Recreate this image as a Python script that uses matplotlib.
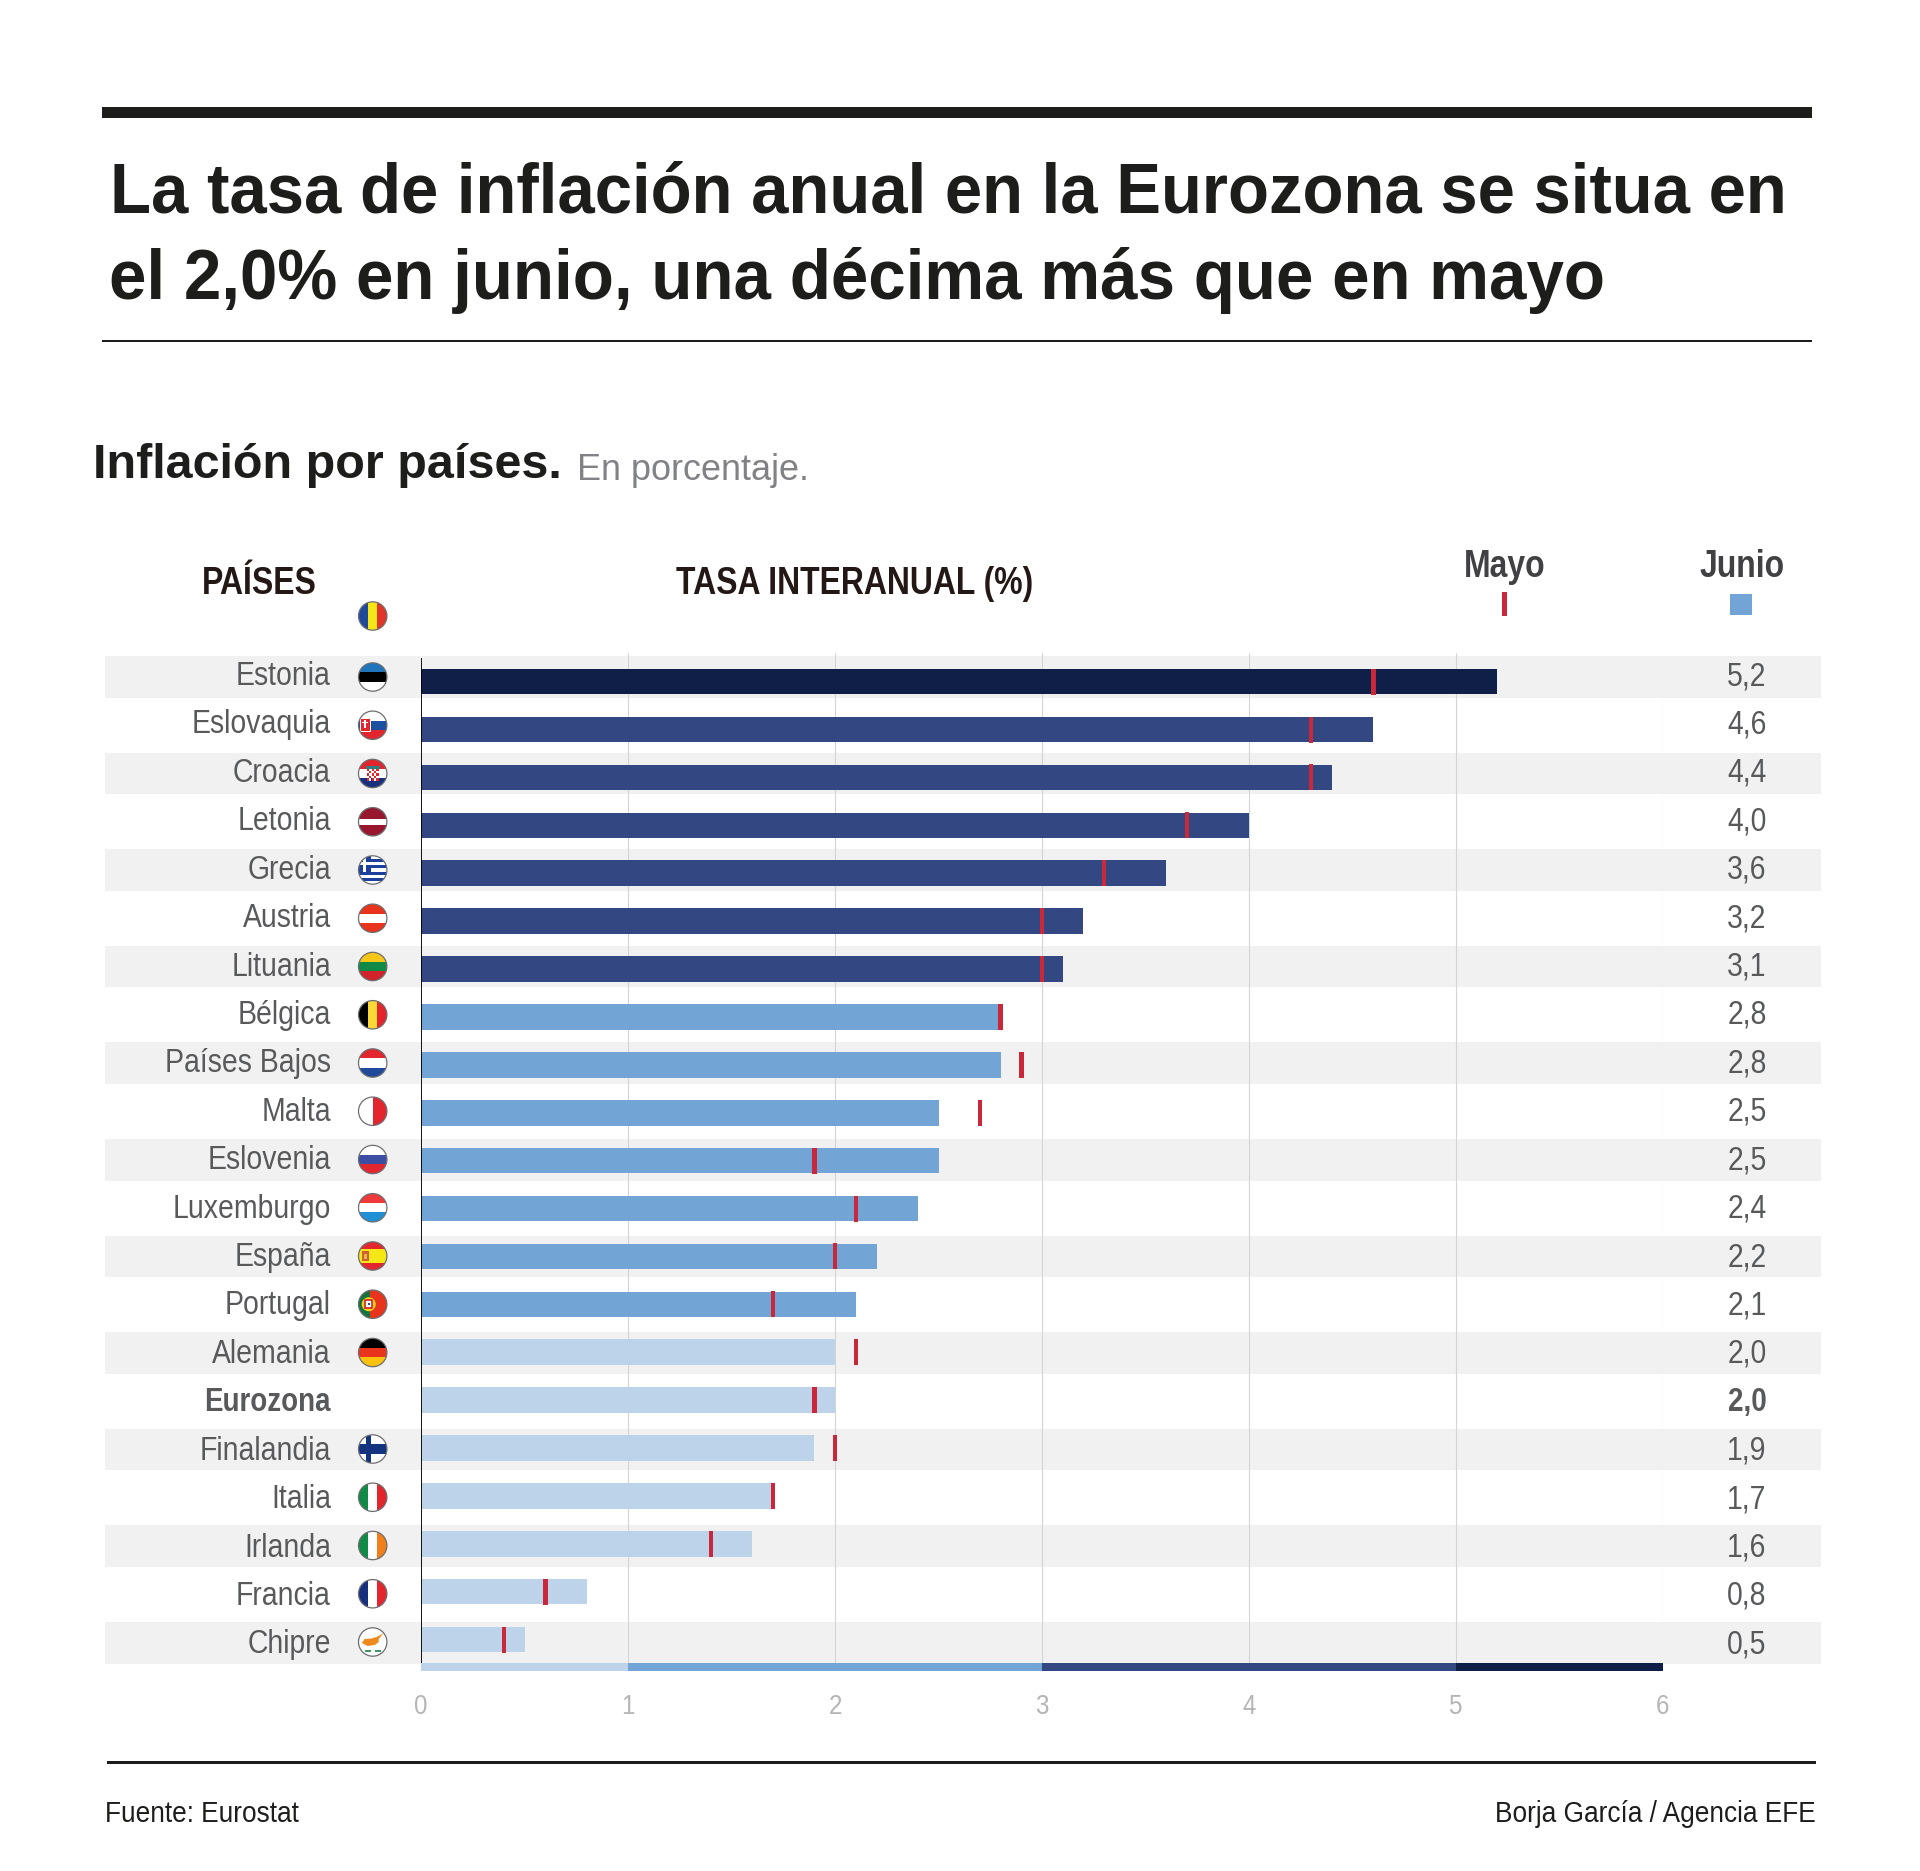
import os
import tempfile
import matplotlib
matplotlib.use('Agg')
import matplotlib.pyplot as plt
from matplotlib.patches import Circle, Rectangle, Polygon
from matplotlib import font_manager
from fontTools.ttLib import TTFont

W, H = 1920, 1871

paises = ['Estonia', 'Eslovaquia', 'Croacia', 'Letonia', 'Grecia', 'Austria', 'Lituania',
          'Bélgica', 'Países Bajos', 'Malta', 'Eslovenia', 'Luxemburgo', 'España', 'Portugal',
          'Alemania', 'Eurozona', 'Finalandia', 'Italia', 'Irlanda', 'Francia', 'Chipre']
junio = [5.2, 4.6, 4.4, 4.0, 3.6, 3.2, 3.1, 2.8, 2.8, 2.5, 2.5,
         2.4, 2.2, 2.1, 2.0, 2.0, 1.9, 1.7, 1.6, 0.8, 0.5]
mayo = [4.6, 4.3, 4.3, 3.7, 3.3, 3.0, 3.0, 2.8, 2.9, 2.7, 1.9,
        2.1, 2.0, 1.7, 2.1, 1.9, 2.0, 1.7, 1.4, 0.6, 0.4]
xticks = [0, 1, 2, 3, 4, 5, 6]
escala_tramos = [(0, 1), (1, 3), (3, 5), (5, 6)]

NAVY = '#0f1f47'
DARK = '#334882'
MID = '#72a5d6'
LIGHT = '#bdd3e9'
RED = '#c8283a'
BAND = '#f1f1f1'
GREY_TXT = '#58595b'

# banderas: orientacion y franjas
franjas = {
    'Rumania': ('v', ['#1f4a9c', '#f5e616', '#e0352b']),
    'Estonia': ('h', ['#1f75bb', '#000000', '#ffffff']),
    'Eslovaquia': ('h', ['#ffffff', '#1d4f9f', '#e3262e']),
    'Croacia': ('h', ['#e3262e', '#ffffff', '#17307e']),
    'Letonia': ('h3', ['#97182e', '#ffffff', '#97182e']),
    'Grecia': ('h', ['#ffffff', '#ffffff', '#ffffff']),
    'Austria': ('h', ['#e8341c', '#ffffff', '#e8341c']),
    'Lituania': ('h', ['#f5c518', '#118a45', '#d2232a']),
    'Bélgica': ('v', ['#000000', '#f9d936', '#e3262e']),
    'Países Bajos': ('h', ['#e3262e', '#ffffff', '#1f4a9c']),
    'Malta': ('v2', ['#ffffff', '#e3262e']),
    'Eslovenia': ('h', ['#ffffff', '#3b4ea3', '#e3262e']),
    'Luxemburgo': ('h', ['#ee3a3a', '#ffffff', '#1f8fd6']),
    'España': ('h4', ['#e3262e', '#f5e616', '#e3262e']),
    'Portugal': ('v25', ['#11733f', '#e8341c']),
    'Alemania': ('h', ['#000000', '#e8341c', '#fcc20d']),
    'Finalandia': ('h', ['#ffffff', '#14347f', '#ffffff']),
    'Italia': ('v', ['#118a45', '#ffffff', '#e3262e']),
    'Irlanda': ('v', ['#118a45', '#ffffff', '#f07f1c']),
    'Francia': ('v', ['#17307e', '#ffffff', '#e3262e']),
    'Chipre': ('h', ['#ffffff', '#ffffff', '#ffffff']),
}


def fuente_estrecha(peso, factor, nombre):
    # copia de Liberation Sans comprimida en horizontal (no hay Arial Narrow instalada)
    prop = font_manager.FontProperties(family='Liberation Sans', weight=peso)
    f = TTFont(font_manager.findfont(prop))
    glyf = f['glyf']
    for g in glyf.keys():
        gl = glyf[g]
        if gl.isComposite():
            for c in gl.components:
                c.x = int(round(c.x * factor))
        elif gl.numberOfContours > 0:
            gl.coordinates.scale((factor, 1))
        gl.recalcBounds(glyf)
    hmtx = f['hmtx']
    for g, (adv, lsb) in hmtx.metrics.items():
        hmtx.metrics[g] = (int(round(adv * factor)), int(round(lsb * factor)))
    if 'kern' in f:
        for t in f['kern'].kernTables:
            t.kernTable = {k: int(round(v * factor)) for k, v in t.kernTable.items()}
    for t in ('fpgm', 'prep', 'cvt ', 'hdmx', 'VDMX', 'LTSH'):
        if t in f:
            del f[t]
    for r in f['name'].names:
        if r.nameID in (1, 4, 16):
            r.string = nombre
        elif r.nameID == 6:
            r.string = nombre.replace(' ', '')
    ruta = os.path.join(tempfile.gettempdir(), nombre.replace(' ', '') + '.ttf')
    f.save(ruta)
    font_manager.fontManager.addfont(ruta)
    return nombre


NARROW = fuente_estrecha('normal', 0.86, 'Estrecha Normal')
NARROW_B = fuente_estrecha('bold', 0.84, 'Estrecha Negrita')
TITULO = fuente_estrecha('bold', 0.945, 'Titulo Negrita')
ARIAL = 'Liberation Sans'


def color_barra(v):
    if v > 5:
        return NAVY
    if v > 3:
        return DARK
    if v > 2:
        return MID
    return LIGHT


def fs(px):
    # alto de em en pixeles a puntos (dpi=100)
    return px * 0.72


def dibuja_bandera(ax, nombre, cx, cy, r=14.2):
    tipo, cols = franjas[nombre]
    clip = Circle((cx, cy), r, transform=ax.transData)
    d = 2 * r
    x0, y0 = cx - r, cy - r
    rects = []
    if tipo == 'v':
        for i, c in enumerate(cols):
            rects.append((x0 + i * d / 3, y0, d / 3, d, c))
    elif tipo == 'v2':
        rects.append((x0, y0, r, d, cols[0]))
        rects.append((cx, y0, r, d, cols[1]))
    elif tipo == 'v25':
        rects.append((x0, y0, d * 0.4, d, cols[0]))
        rects.append((x0 + d * 0.4, y0, d * 0.6, d, cols[1]))
    elif tipo == 'h3':
        rects.append((x0, y0, d, d * 0.4, cols[0]))
        rects.append((x0, y0 + d * 0.4, d, d * 0.2, cols[1]))
        rects.append((x0, y0 + d * 0.6, d, d * 0.4, cols[2]))
    elif tipo == 'h4':
        rects.append((x0, y0, d, d * 0.25, cols[0]))
        rects.append((x0, y0 + d * 0.25, d, d * 0.5, cols[1]))
        rects.append((x0, y0 + d * 0.75, d, d * 0.25, cols[2]))
    else:
        for i, c in enumerate(cols):
            rects.append((x0, y0 + i * d / 3, d, d / 3, c))
    for (x, y, w, h, c) in rects:
        p = Rectangle((x, y), w, h, fc=c, ec='none', zorder=3)
        ax.add_patch(p)
        p.set_clip_path(clip)

    def extra(patch):
        patch.set_zorder(4)
        ax.add_patch(patch)
        patch.set_clip_path(clip)

    if nombre == 'Eslovaquia':
        extra(Rectangle((cx - 12.5, cy - 7), 9.5, 13, fc='#e3262e', ec='white', lw=0.7))
        extra(Rectangle((cx - 8.5, cy - 5.5), 1.4, 8, fc='white', ec='none'))
        extra(Rectangle((cx - 10.7, cy - 3.5), 5.8, 1.3, fc='white', ec='none'))
    elif nombre == 'Croacia':
        for i in range(5):
            for j in range(5):
                c = '#e3262e' if (i + j) % 2 == 0 else '#ffffff'
                extra(Rectangle((cx - 6 + i * 2.4, cy - 5 + j * 2.4), 2.4, 2.4, fc=c, ec='none'))
        extra(Rectangle((cx - 7, cy - 8), 14, 3, fc='#2f7f7f', ec='none'))
    elif nombre == 'Grecia':
        for i in range(1, 9, 2):
            extra(Rectangle((x0, y0 + i * d / 9), d, d / 9, fc='#1b3f9b', ec='none'))
        extra(Rectangle((x0, y0 - 1), d * 0.44, d * 5 / 9 + 1, fc='#1b3f9b', ec='none'))
        extra(Rectangle((x0, y0 + 2 * d / 9), d * 0.44, d / 9, fc='white', ec='none'))
        extra(Rectangle((x0 + d * 0.17, y0), d * 0.1, d * 5 / 9, fc='white', ec='none'))
    elif nombre == 'España':
        extra(Rectangle((cx - 10.5, cy - 5), 7, 10, fc='#d0622f', ec='none'))
        extra(Rectangle((cx - 8.5, cy - 2), 3, 5, fc='#e8b45a', ec='none'))
    elif nombre == 'Portugal':
        extra(Circle((x0 + d * 0.36, cy), 7, fc='#f5d416', ec='none'))
        extra(Rectangle((x0 + d * 0.36 - 3.5, cy - 4), 7, 8, fc='white', ec='#d2232a', lw=1.2))
        extra(Rectangle((x0 + d * 0.36 - 1, cy - 1), 2, 2, fc='#2a4f9f', ec='none'))
    elif nombre == 'Finalandia':
        extra(Rectangle((x0 + d * 0.25, y0), d * 0.2, d, fc='#14347f', ec='none'))
    elif nombre == 'Chipre':
        extra(Polygon([(cx - 11, cy + 1), (cx - 8, cy - 3), (cx - 1, cy - 3.5), (cx + 4, cy - 5),
                       (cx + 11, cy - 9), (cx + 6, cy - 3), (cx + 6, cy + 0), (cx + 2, cy + 3),
                       (cx - 5, cy + 4)], fc='#ee8a1d', ec='none'))
        extra(Rectangle((cx - 8, cy + 8), 6, 2, fc='#3d9a63', ec='none'))
        extra(Rectangle((cx + 2, cy + 8), 6, 2, fc='#3d9a63', ec='none'))
    ax.add_patch(Circle((cx, cy), r, fc='none', ec='#6d6e71', lw=0.9, zorder=5))


fig = plt.figure(figsize=(W / 100, H / 100), dpi=100, facecolor='white')

# capa de fondo en pixeles: bandas, textos, banderas
bg = fig.add_axes([0, 0, 1, 1], zorder=0)
bg.set_xlim(0, W)
bg.set_ylim(H, 0)
bg.axis('off')

bg.add_patch(Rectangle((102, 107), 1710, 11, fc='#1d1d1b', ec='none'))
bg.add_patch(Rectangle((102, 339.5), 1710, 2.5, fc='#1d1d1b', ec='none'))
bg.add_patch(Rectangle((107, 1760.5), 1709, 3, fc='#1d1d1b', ec='none'))

bg.text(110, 212, 'La tasa de inflación anual en la Eurozona se situa en', family=TITULO,
        weight='bold', fontsize=fs(71), color='#1d1d1b', ha='left', va='baseline')
bg.text(109, 299, 'el 2,0% en junio, una décima más que en mayo', family=TITULO,
        weight='bold', fontsize=fs(71.3), color='#1d1d1b', ha='left', va='baseline')
bg.text(93, 478, 'Inflación por países.', family=ARIAL, weight='bold', fontsize=fs(48.5),
        color='#1d1d1b', ha='left', va='baseline')
bg.text(577, 480, 'En porcentaje.', family=ARIAL, fontsize=fs(36), color='#808285',
        ha='left', va='baseline')

bg.text(259, 594, 'PAÍSES', family=NARROW_B, fontsize=fs(38), color='#231815',
        ha='center', va='baseline')
bg.text(855, 594, 'TASA INTERANUAL (%)', family=NARROW_B, fontsize=fs(38),
        color='#231815', ha='center', va='baseline')
bg.text(1504.5, 577, 'Mayo', family=NARROW_B, fontsize=fs(38), color='#414042',
        ha='center', va='baseline')
bg.text(1742, 577, 'Junio', family=NARROW_B, fontsize=fs(38), color='#414042',
        ha='center', va='baseline')
bg.add_patch(Rectangle((1502, 592), 4.5, 24, fc=RED, ec='none'))
bg.add_patch(Rectangle((1730, 594), 22, 21, fc=MID, ec='none'))

dibuja_bandera(bg, 'Rumania', 372.7, 616)

for i, nombre in enumerate(paises):
    if i % 2 == 0:
        bg.add_patch(Rectangle((105, 656 + 48.3 * i), 1716, 41.5, fc=BAND, ec='none', zorder=1))
    y_txt = 685 + 48.42 * i
    familia = NARROW_B if nombre == 'Eurozona' else NARROW
    bg.text(331, y_txt, nombre, family=familia, fontsize=fs(33), color=GREY_TXT,
            ha='right', va='baseline', zorder=6)
    bg.text(1747, y_txt, f'{junio[i]:.1f}'.replace('.', ','), family=familia,
            fontsize=fs(33), color=GREY_TXT, ha='center', va='baseline', zorder=6)
    if nombre != 'Eurozona':
        dibuja_bandera(bg, nombre, 372.7, 677 + 48.25 * i)

bg.text(105, 1821.5, 'Fuente: Eurostat', family=NARROW, fontsize=fs(30.5), color='#1d1d1b',
        ha='left', va='baseline')
bg.text(1816, 1821.5, 'Borja García / Agencia EFE', family=NARROW, fontsize=fs(30.5),
        color='#1d1d1b', ha='right', va='baseline')

# grafico principal
y_top, y_bot = 653, 1672
pitch = 47.9
y0_fila = 681.6
ax = fig.add_axes([421.2 / W, 1 - y_bot / H, (1663.0 - 421.2) / W, (y_bot - y_top) / H], zorder=1)
ax.patch.set_visible(False)
ax.set_xlim(0, 6)
ax.set_ylim((y_bot - y0_fila) / pitch, (y_top - y0_fila) / pitch)
for s in ax.spines.values():
    s.set_visible(False)

fin_rejilla = (1663 - y0_fila) / pitch
inicio_eje = (658 - y0_fila) / pitch
ax.vlines(xticks[1:], (y_top - y0_fila) / pitch, fin_rejilla, color='#d4d4d4', lw=0.8, zorder=1)

filas = list(range(len(paises)))
ax.barh(filas, junio, height=25.6 / pitch, color=[color_barra(v) for v in junio], zorder=2)
ax.barh(filas, [0.022] * len(filas), left=[m - 0.011 for m in mayo], height=26 / pitch,
        color=RED, zorder=3)
ax.vlines(0, inicio_eje, fin_rejilla, color='black', lw=1.3, zorder=4)

# escala de colores inferior
for (a, b), c in zip(escala_tramos, [LIGHT, MID, DARK, NAVY]):
    ax.barh((1667 - y0_fila) / pitch, b - a, left=a, height=8 / pitch, color=c, zorder=2)

ax.set_yticks([])
ax.set_xticks(xticks)
ax.set_xticklabels([str(t) for t in xticks], family=NARROW, fontsize=fs(28), color='#b5b5b5')
ax.tick_params(axis='x', length=0, pad=16)

fig.savefig('out.png', dpi=100, facecolor='white')
